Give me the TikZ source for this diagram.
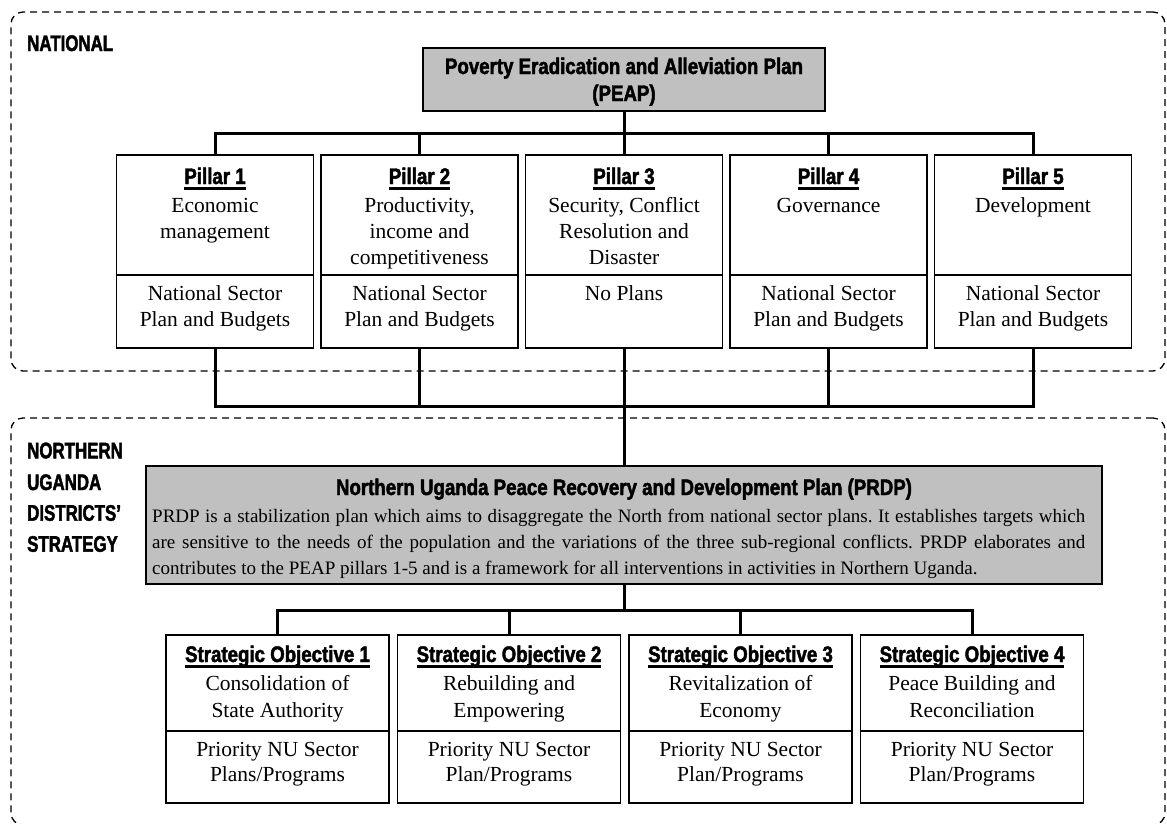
\documentclass[tikz,border=0pt]{standalone}
\usepackage{fontspec}
\setmainfont{Liberation Serif}
\newfontfamily\headfont[FakeStretch=0.83,FakeBold=2]{Liberation Sans}
\newfontfamily\labfont[FakeStretch=0.75,FakeBold=2]{Liberation Sans}
\definecolor{boxgray}{RGB}{192,192,192}
\newcommand\hul[1]{\setbox0=\hbox{#1}\rlap{\rule[-5.5pt]{\wd0}{2.6pt}}\box0}
\newcommand\tlines[5]{\foreach \l [count=\i from 0] in {#5}{\node[txt] (#1-\i) at (#2,{#3+\i*#4}) {\l};}}
\begin{document}
\begin{tikzpicture}[x=1pt,y=-1pt,
  region/.style={draw, dash pattern=on 7pt off 5pt, line width=1.3pt, rounded corners=12pt, inner sep=0pt},
  pbox/.style={draw, line width=1.8pt, inner sep=0pt, fill=white},
  gbox/.style={draw, line width=1.8pt, inner sep=0pt, fill=boxgray},
  conn/.style={line width=3pt, line join=miter},
  divl/.style={line width=1.8pt},
  txt/.style={anchor=base, inner sep=0pt, font=\fontsize{21.5}{25}\selectfont},
  para/.style={anchor=base west, inner sep=0pt, font=\fontsize{19}{26}\selectfont\frenchspacing},
  head/.style={anchor=base, inner sep=0pt, font=\headfont\bfseries\fontsize{22.5}{25}\selectfont},
  lab/.style={anchor=base west, inner sep=0pt, font=\labfont\bfseries\fontsize{22.5}{25}\selectfont}]
\useasboundingbox (0,0) rectangle (1167,823);
\clip (0,0) rectangle (1167,823);

% regions
\node[region, minimum width=1154pt, minimum height=359pt] (natl) at (588,191.5) {};
\node[region, minimum width=1154pt, minimum height=407pt] (north) at (588,621.5) {};
\node[lab] (natlab) at (27,51) {NATIONAL};
\node[lab] (nl1) at (27,458.3) {NORTHERN};
\node[lab] (nl2) at (27,490) {UGANDA};
\node[lab] (nl3) at (27,520.7) {DISTRICTS’};
\node[lab] (nl4) at (27,551.7) {STRATEGY};

% PEAP
\node[gbox, minimum width=402pt, minimum height=63pt] (peap) at (624,79.5) {};
\node[head] (peapt1) at (624,74) {Poverty Eradication and Alleviation Plan};
\node[head] (peapt2) at (624,101) {(PEAP)};

% pillars
\foreach \x [count=\i] in {215,419.5,624,828.5,1033}{
  \node[pbox, minimum width=197pt, minimum height=193pt] (p\i) at (\x,251.5) {};
  \draw[divl] ({\x-98.5},275) -- ({\x+98.5},275);
  \node[head] (ph\i) at (\x,184) {\hul{Pillar \i}};
}
\tlines{pa}{215}{212}{26}{Economic,management}
\tlines{pb}{419.5}{212}{26}{{Productivity,},income and,competitiveness}
\tlines{pc}{624}{212}{26}{{Security, Conflict},Resolution and,Disaster}
\tlines{pd}{828.5}{212}{26}{Governance}
\tlines{pe}{1033}{212}{26}{Development}
\tlines{la}{215}{300.5}{26}{National Sector,Plan and Budgets}
\tlines{lb}{419.5}{300.5}{26}{National Sector,Plan and Budgets}
\tlines{lc}{624}{300.5}{26}{No Plans}
\tlines{ld}{828.5}{300.5}{26}{National Sector,Plan and Budgets}
\tlines{le}{1033}{300.5}{26}{National Sector,Plan and Budgets}

% PRDP
\node[gbox, minimum width=956pt, minimum height=118pt] (prdp) at (624,525) {};
\node[head] (prdpt) at (624,495) {Northern Uganda Peace Recovery and Development Plan (PRDP)};
\node[para] (pr1) at (152,522.5) {\makebox[933pt][s]{PRDP is a stabilization plan which aims to disaggregate the North from national sector plans. It establishes targets which}};
\node[para] (pr2) at (152,548.5) {\makebox[933pt][s]{are sensitive to the needs of the population and the variations of the three sub-regional conflicts. PRDP elaborates and}};
\node[para] (pr3) at (152,574.5) {contributes to the PEAP pillars 1-5 and is a framework for all interventions in activities in Northern Uganda.};

% strategic objectives
\foreach \x [count=\i] in {277.5,509,740.5,972}{
  \node[pbox, minimum width=223pt, minimum height=168pt] (so\i) at (\x,719) {};
  \draw[divl] ({\x-111.5},731) -- ({\x+111.5},731);
  \node[head] (soh\i) at (\x,662) {\hul{Strategic Objective \i}};
}
\tlines{sa}{277.5}{690.5}{27}{Consolidation of,State Authority}
\tlines{sb}{509}{690.5}{27}{Rebuilding and,Empowering}
\tlines{sc}{740.5}{690.5}{27}{Revitalization of,Economy}
\tlines{sd}{972}{690.5}{27}{Peace Building and,Reconciliation}
\tlines{ta}{277.5}{756}{25}{Priority NU Sector,Plans/Programs}
\tlines{tb}{509}{756}{25}{Priority NU Sector,Plan/Programs}
\tlines{tc}{740.5}{756}{25}{Priority NU Sector,Plan/Programs}
\tlines{td}{972}{756}{25}{Priority NU Sector,Plan/Programs}

% connectors
\coordinate (bus1) at (624,133);
\coordinate (bus2) at (624,406.5);
\coordinate (bus3) at (624,610);
\draw[conn] (peap.south) -- (bus1);
\foreach \i in {1,...,5}{\draw[conn] (p\i.north) |- (bus1);}
\foreach \i in {1,2,4,5}{\draw[conn] (p\i.south) |- (bus2);}
\draw[conn] (p3.south) -- (prdp.north);
\draw[conn] (prdp.south) -- (bus3);
\foreach \i in {1,...,4}{\draw[conn] (so\i.north) |- (bus3);}
\end{tikzpicture}
\end{document}
